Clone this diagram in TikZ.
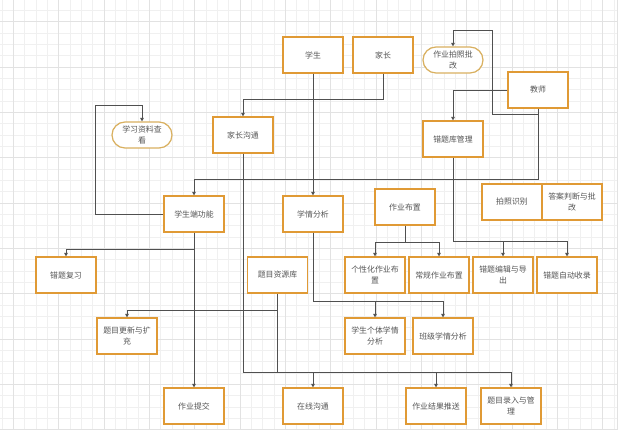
\documentclass[tikz,border=0pt]{standalone}
\usepackage{fontspec}
\setmainfont{Noto Sans CJK SC}
\usetikzlibrary{arrows.meta}
\definecolor{boxor}{HTML}{E09A35}
\definecolor{rndor}{HTML}{D9B060}
\definecolor{txtc}{HTML}{555555}
\definecolor{linec}{HTML}{505050}
\definecolor{gridmin}{HTML}{F0F0F0}
\definecolor{gridmaj}{HTML}{E2E2E2}
\tikzset{
  boxnode/.style={draw=boxor, line width=1.25pt, fill=white, minimum width=60pt, minimum height=36pt, inner sep=0pt, align=center, text=txtc, font=\fontsize{7.9}{11.5}\selectfont},
  pillnode/.style={draw=rndor, line width=1.25pt, fill=white, rounded corners=13pt, minimum width=60pt, minimum height=26pt, inner sep=0pt, align=center, text=txtc, font=\fontsize{7.9}{11.5}\selectfont},
  conn/.style={draw=linec, line width=0.8pt},
  arr/.style={conn, -{Triangle[length=3.5pt,width=3.6pt]}}
}
\begin{document}
\begin{tikzpicture}[x=1pt,y=-1pt]
\useasboundingbox (0,0) rectangle (620,440);
\fill[white] (0,0) rectangle (620,440);
% grid
\foreach \k in {0,...,54} {\draw[gridmin, line width=0.6pt] ({2.1+11.333*\k},0) -- ({2.1+11.333*\k},429.3);}
\foreach \k in {1,...,37} {\draw[gridmin, line width=0.6pt] (0,{-0.9+11.333*\k}) -- (617,{-0.9+11.333*\k});}
\foreach \k in {0,...,13} {\draw[gridmaj, line width=0.6pt] ({13.4+45.333*\k},0) -- ({13.4+45.333*\k},429.3);}
\foreach \k in {0,...,8} {\draw[gridmaj, line width=0.6pt] (0,{21.7+45.333*\k}) -- (617,{21.7+45.333*\k});}
\draw[gridmaj, line width=0.8pt] (0,429.3) -- (617,429.3) -- (617,0);

% nodes
\node[boxnode] (s)  at (313,55) {学生};
\node[boxnode] (p)  at (383,55) {家长};
\node[pillnode] (hp) at (453,60) {作业拍照批\\改};
\node[boxnode] (t)  at (538,90) {教师};
\node[pillnode] (xx) at (142,135) {学习资料查\\看};
\node[boxnode] (jg) at (243,135) {家长沟通};
\node[boxnode] (ck) at (453,139) {错题库管理};
\node[boxnode] (pz) at (512,202) {拍照识别};
\node[boxnode] (da) at (572,202) {答案判断与批\\改};
\node[boxnode] (sd) at (194,214) {学生端功能};
\node[boxnode] (xq) at (313,214) {学情分析};
\node[boxnode] (zb) at (405,207) {作业布置};
\node[boxnode] (cf) at (66,275) {错题复习};
\node[boxnode] (tk) at (277.5,275) {题目资源库};
\node[boxnode] (gx) at (375,275) {个性化作业布\\置};
\node[boxnode] (cg) at (439,275) {常规作业布置};
\node[boxnode] (cb) at (503,275) {错题编辑与导\\出};
\node[boxnode] (cz) at (567,275) {错题自动收录};
\node[boxnode] (tg) at (127,336) {题目更新与扩\\充};
\node[boxnode] (gt) at (375,336) {学生个体学情\\分析};
\node[boxnode] (bj) at (443,336) {班级学情分析};
\node[boxnode] (tj) at (194,406) {作业提交};
\node[boxnode] (zx) at (313,406) {在线沟通};
\node[boxnode] (jt) at (436,406) {作业结果推送};
\node[boxnode] (tl) at (511,406) {题目录入与管\\理};

% helper coordinates
\coordinate (c1) at (383,99);
\coordinate (c3) at (538,179);
\coordinate (c4a) at (538,114);
\coordinate (c4b) at (492,114);
\coordinate (c4c) at (492,30);
\coordinate (b1) at (453,241);
\coordinate (b2) at (405,242);
\coordinate (b3) at (313,301);
\coordinate (c9a) at (95,214);
\coordinate (c9b) at (95,105);
\coordinate (b4) at (194,249);
\coordinate (b5) at (277.5,310);
\coordinate (b6) at (243,372);
\coordinate (b6b) at (277.5,372);

% connectors
\draw[arr] (s.south) -- (xq.north);
\draw[arr] (p.south) -- (c1) -| (jg.north);
\draw[arr] (t.south) -- (c3) -| (sd.north);
\draw[arr] (t.south) -- (c4a) -- (c4b) -- (c4c) -| (hp.north);
\draw[arr] (t.west) -| (ck.north);
\draw[arr] (ck.south) -- (b1) -| (cb.north);
\draw[arr] (b1) -| (cz.north);
\draw[arr] (zb.south) -- (b2) -| (gx.north);
\draw[arr] (b2) -| (cg.north);
\draw[arr] (xq.south) -- (b3) -| (gt.north);
\draw[arr] (b3) -| (bj.north);
\draw[arr] (sd.west) -- (c9a) -- (c9b) -| (xx.north);
\draw[arr] (sd.south) -- (b4) -| (cf.north);
\draw[arr] (b4) -- (tj.north);
\draw[arr] (tk.south) -- (b5) -| (tg.north);
\draw[conn] (b5) -- (b6b);
\draw[arr] (jg.south) -- (b6) -| (zx.north);
\draw[arr] (b6) -| (jt.north);
\draw[arr] (b6) -| (tl.north);
\end{tikzpicture}
\end{document}
